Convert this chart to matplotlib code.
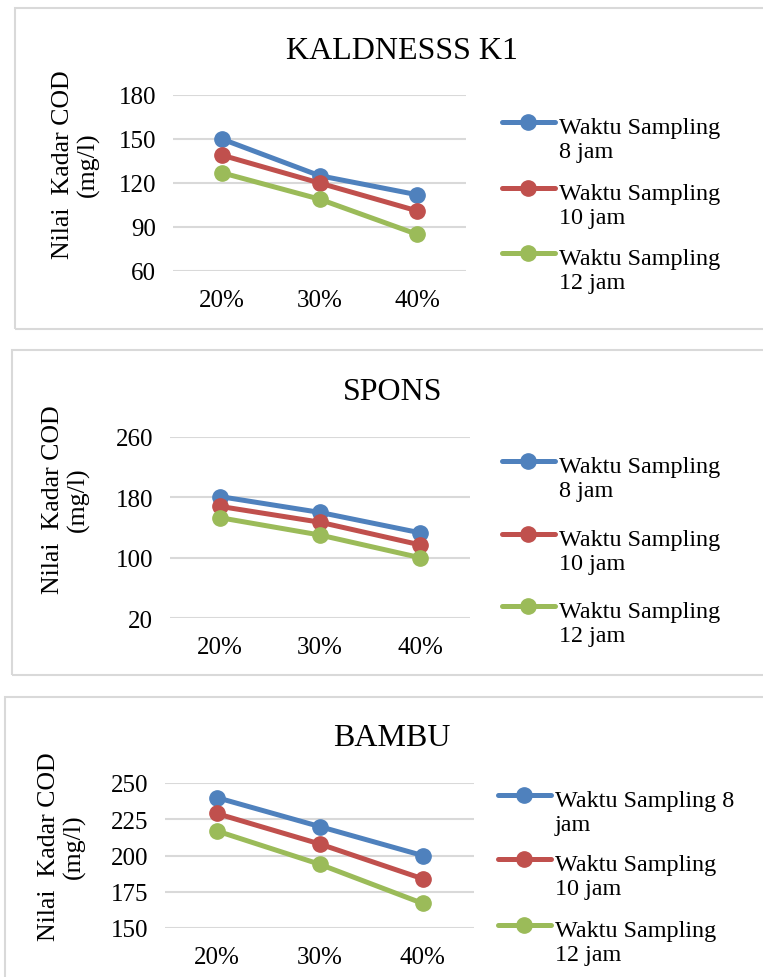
import matplotlib
matplotlib.use('Agg')
import matplotlib.pyplot as plt
from matplotlib.lines import Line2D
from matplotlib.patches import Rectangle

plt.rcParams['font.family'] = ['Liberation Serif', 'DejaVu Serif']

# COD values (mg/l) per media, rows = sampling time 8, 10, 12 jam
categories = ['20%', '30%', '40%']
series_labels = ['Waktu Sampling\n8 jam', 'Waktu Sampling\n10 jam', 'Waktu Sampling\n12 jam']
series_labels_bambu = ['Waktu Sampling 8\njam', 'Waktu Sampling\n10 jam', 'Waktu Sampling\n12 jam']
colors = ['#4f81bd', '#c0504d', '#9bbb59']

kaldness_8 = [150, 125, 112]
kaldness_10 = [139, 120, 101]
kaldness_12 = [127, 109, 85]

spons_8 = [181, 160, 133]
spons_10 = [168, 147, 117]
spons_12 = [153, 130, 100]

bambu_8 = [240, 220, 200]
bambu_10 = [229, 208, 184]
bambu_12 = [217, 194, 167]

W, H = 763, 978
fig = plt.figure(figsize=(W / 100, H / 100), dpi=100)

LEG_SIZE = 17.4
LINE_W = 3.6
MARK_S = 11


def fx(x):
    return x / W


def fy(y):
    return 1 - y / H


def draw_panel(box, plot, title, title_pos, ylabel_pos, legend_x, legend_y,
               series, labels, ylim, yticks):
    # chart border
    bx0, by0, bx1, by1 = box
    fig.add_artist(Rectangle((fx(bx0), fy(by1)), fx(bx1 - bx0), (by1 - by0) / H,
                             transform=fig.transFigure, fill=False,
                             edgecolor='#d9d9d9', linewidth=1.5))

    px0, py0, px1, py1 = plot
    ax = fig.add_axes([fx(px0), fy(py1), fx(px1 - px0), (py1 - py0) / H])
    x = range(len(categories))
    for vals, c in zip(series, colors):
        ax.plot(x, vals, color=c, linewidth=LINE_W, marker='o', markersize=MARK_S,
                solid_capstyle='round', clip_on=False)
    ax.set_xlim(-0.5, 2.5)
    ax.set_ylim(*ylim)
    ax.set_yticks(yticks)
    ax.set_xticks(list(x), categories)
    ax.grid(axis='y', color='#d9d9d9', linewidth=1.5)
    ax.set_axisbelow(True)
    for s in ax.spines.values():
        s.set_visible(False)
    ax.tick_params(axis='both', length=0, labelsize=18)
    ax.tick_params(axis='y', pad=12)
    ax.tick_params(axis='x', pad=13)

    fig.text(fx(title_pos[0]), fy(title_pos[1]), title, fontsize=23,
             ha='center', va='baseline')
    fig.text(fx(ylabel_pos[0]), fy(ylabel_pos[1]), 'Nilai  Kadar COD\n(mg/l)',
             fontsize=18.6, rotation=90, ha='center', va='center',
             multialignment='center')

    # legend drawn by hand, one entry per sampling time
    line_gap = LEG_SIZE * 1.2 * 100 / 72
    for i, (lab, c) in enumerate(zip(labels, colors)):
        yy = legend_y[i]
        fig.add_artist(Line2D([fx(legend_x - 57), fx(legend_x - 4)], [fy(yy), fy(yy)],
                              transform=fig.transFigure, color=c, linewidth=LINE_W,
                              solid_capstyle='round'))
        fig.add_artist(Line2D([fx(legend_x - 31)], [fy(yy)], transform=fig.transFigure,
                              color=c, marker='o', markersize=MARK_S))
        n_lines = lab.count('\n')
        fig.text(fx(legend_x), fy(yy + 6 + n_lines * line_gap), lab, fontsize=LEG_SIZE,
                 ha='left', va='baseline', linespacing=1.2)
    return ax


draw_panel((15, 9, 790, 330), (173, 96, 466, 272), 'KALDNESSS K1', (402, 59),
           (76, 165), 559, [123, 189, 254],
           [kaldness_8, kaldness_10, kaldness_12], series_labels,
           (60, 180), [60, 90, 120, 150, 180])

draw_panel((12, 351, 790, 676), (170, 438, 470, 619), 'SPONS', (393, 400),
           (66, 500), 559, [462, 535, 607],
           [spons_8, spons_10, spons_12], series_labels,
           (20, 260), [20, 100, 180, 260])

draw_panel((5, 698, 790, 1000), (165, 784, 474, 929), 'BAMBU', (392, 746),
           (62, 847), 555, [796, 860, 926],
           [bambu_8, bambu_10, bambu_12], series_labels_bambu,
           (150, 250), [150, 175, 200, 225, 250])

fig.savefig('out.png', dpi=100)
